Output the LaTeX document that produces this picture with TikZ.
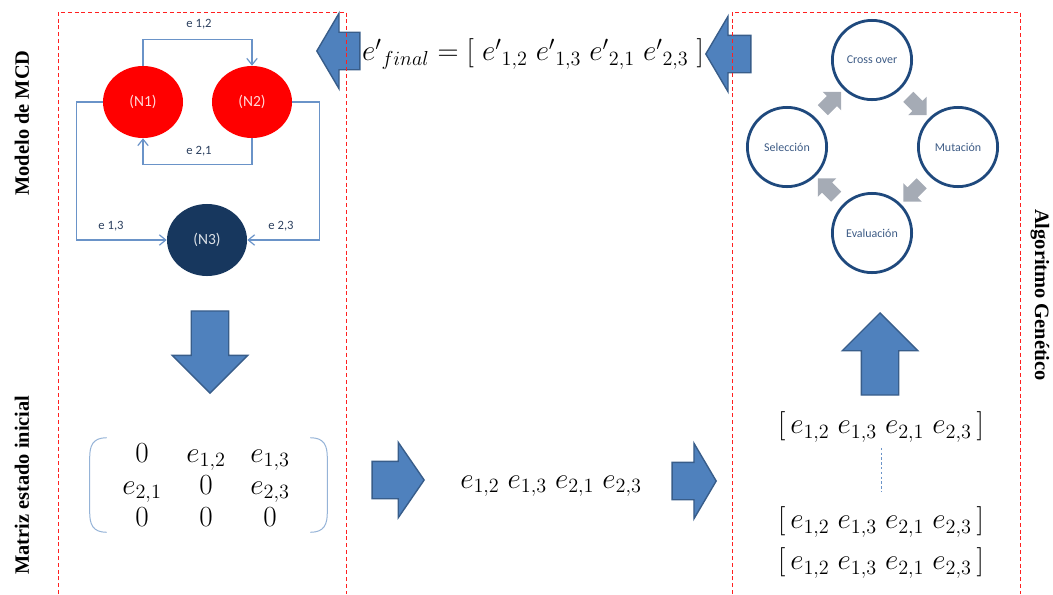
\documentclass[tikz,border=0pt]{standalone}
\usepackage{fontspec}
\setmainfont{Liberation Serif}
\newfontfamily\calibri{Carlito}
\usepackage{xcolor}
\usepackage{tikz}
\usetikzlibrary{shapes.geometric, shapes.arrows, positioning, arrows.meta, calc}
\usetikzlibrary{matrix}

\definecolor{nodered}{HTML}{FF0000}
\definecolor{nodenavy}{HTML}{17375E}
\definecolor{edgeblue}{HTML}{6A93C8}
\definecolor{labelblue}{HTML}{2B3F5E}
\definecolor{arrowfill}{HTML}{4F81BD}
\definecolor{arrowline}{HTML}{385D8A}
\definecolor{ringblue}{HTML}{1F497D}
\definecolor{ringtext}{HTML}{3E5C86}
\definecolor{stepgray}{HTML}{A5ABB5}
\definecolor{boxred}{HTML}{FF2020}
\definecolor{parenblue}{HTML}{95B3D7}

\begin{document}
\begin{tikzpicture}[
        x=0.025cm, y=-0.025cm,
        % Styles for the graph of the model
        mcdnode/.style={
            ellipse, draw=none, fill=nodered,
            minimum width=20mm, minimum height=18mm,
            font=\calibri\fontsize{11}{13}\selectfont, text=red!15
        },
        link/.style={
            draw=edgeblue, line width=0.3mm,
            -{Straight Barb[length=1.6mm, width=2.6mm]}
        },
        edgelabel/.style={font=\calibri\fontsize{9}{11}\selectfont, text=labelblue, inner sep=1pt},
        % Block arrows between the stages
        bigarrow/.style={
            single arrow, draw=arrowline, fill=arrowfill, line width=0.35mm,
            inner xsep=0pt, inner ysep=4.5mm, minimum width=0pt,
            single arrow head extend=4.75mm, anchor=tip
        },
        % Genetic algorithm cycle
        gastep/.style={
            circle, draw=ringblue, fill=white, line width=0.7mm,
            minimum size=19.8mm, inner sep=0pt,
            font=\calibri\fontsize{8.5}{10}\selectfont, text=ringtext
        },
        gaarrow/.style={
            single arrow, draw=none, fill=stepgray,
            inner xsep=0pt, inner ysep=1.7mm, minimum width=0pt,
            single arrow head extend=1.5mm, minimum height=6.5mm
        },
        mathtext/.style={font=\fontsize{20}{24}\selectfont, inner sep=1pt},
        sidelabel/.style={font=\bfseries\fontsize{14.5}{17}\selectfont},
        redbox/.style={draw=boxred, line width=0.2mm, dash pattern=on 1mm off 0.7mm},
        paren/.style={draw=parenblue, line width=0.25mm},
        dotline/.style={draw=edgeblue, line width=0.2mm, dash pattern=on 0.6mm off 0.6mm,
            shorten <=1mm, shorten >=3.5mm}
    ]
    \useasboundingbox (0,0) rectangle (1053,594);

    % 1. SIDE TITLES
    \node[sidelabel, rotate=90] (mcdlabel) at (22,123) {Modelo de MCD};
    \node[sidelabel, rotate=90] (matlabel) at (22,485) {Matriz estado inicial};
    \node[sidelabel, rotate=-90] (galabel) at (1040,295) {Algoritmo Genético};

    % 2. MCD MODEL (three nodes)
    \node[mcdnode] (n1) at (143,102) {(N1)};
    \node[mcdnode] (n2) at (252,102) {(N2)};
    \node[mcdnode, fill=nodenavy, text=white!85!nodenavy] (n3) at (207,240) {(N3)};

    % Edges between the nodes
    \draw[link] (n1.north) -- ++(0,-26) -| (n2.north);
    \draw[link] (n2.south) -- ++(0,26) -| (n1.south);
    \draw[link] (n1.west) -- ++(-26,0) |- (n3.west);
    \draw[link] (n2.east) -- ++(27,0) |- (n3.east);

    \node[edgelabel] (l12) at (199,24) {e 1,2};
    \node[edgelabel] (l21) at (199,151) {e 2,1};
    \node[edgelabel] (l13) at (111,226) {e 1,3};
    \node[edgelabel] (l23) at (281,226) {e 2,3};

    % 3. INITIAL STATE MATRIX
    \matrix (mat) [matrix of math nodes, inner sep=0pt,
        nodes={minimum width=16mm, inner sep=0pt, text height=4mm, text depth=1.5mm},
        column sep=0pt, row sep=2.5mm, font=\fontsize{20}{24}\selectfont] at (206,489) {
        0       & e_{1,2} & e_{1,3} \\
        e_{2,1} & 0       & e_{2,3} \\
        0       & 0       & 0       \\
    };
    \draw[paren] ($(mat.north west)+(-3,-8)$) .. controls +(-14,0) and +(0,-12) .. ($(mat.north west)+(-20,12)$)
        -- ($(mat.south west)+(-20,-20)$) .. controls +(0,12) and +(-14,0) .. ($(mat.south west)+(-3,0)$);
    \draw[paren] ($(mat.north east)+(8,-8)$) .. controls +(14,0) and +(0,-12) .. ($(mat.north east)+(25,12)$)
        -- ($(mat.south east)+(25,-20)$) .. controls +(0,12) and +(14,0) .. ($(mat.south east)+(8,0)$);

    % 4. FLAT VECTOR AND POPULATION
    \node[mathtext] (flat) at (551,486) {$e_{1,2}\;e_{1,3}\;e_{2,1}\;e_{2,3}$};
    \node[mathtext] (vec1) at (881,427) {$[\,e_{1,2}\;e_{1,3}\;e_{2,1}\;e_{2,3}\,]$};
    \node[mathtext] (vec2) at (881,522) {$[\,e_{1,2}\;e_{1,3}\;e_{2,1}\;e_{2,3}\,]$};
    \node[mathtext] (vec3) at (881,563) {$[\,e_{1,2}\;e_{1,3}\;e_{2,1}\;e_{2,3}\,]$};
    \draw[dotline] (vec1.south) -- (vec2.north);

    % Final result
    \node[mathtext] (final) at (533,54) {${e'}_{final} = [\;{e'}_{1,2}\;{e'}_{1,3}\;{e'}_{2,1}\;{e'}_{2,3}\;]$};

    % 5. GENETIC ALGORITHM CYCLE
    \node[gastep] (cross) at (872,60) {Cross over};
    \node[gastep] (mut) at (958,147) {Mutación};
    \node[gastep] (eval) at (872,233) {Evaluación};
    \node[gastep] (sel) at (787,147) {Selección};

    \node[gaarrow, rotate=45] (g1) at ($(sel)!0.5!(cross)$) {};
    \node[gaarrow, rotate=-45] (g2) at ($(cross)!0.5!(mut)$) {};
    \node[gaarrow, rotate=-135] (g3) at ($(mut)!0.5!(eval)$) {};
    \node[gaarrow, rotate=135] (g4) at ($(eval)!0.5!(sel)$) {};

    % 6. BLOCK ARROWS
    \node[bigarrow, rotate=180, single arrow tip angle=119, minimum height=10.75mm] (outmcd) at (316,51) {};
    \node[bigarrow, rotate=180, single arrow tip angle=119, minimum height=11.25mm] (outga) at (705,54) {};
    \node[bigarrow, rotate=-90, minimum height=20.5mm] (tomat) at (210,394) {};
    \node[bigarrow, single arrow tip angle=111, minimum height=13mm] (toflat) at (425,480) {};
    \node[bigarrow, single arrow tip angle=119, minimum height=11mm] (topop) at (717,481) {};
    \node[bigarrow, rotate=90, minimum height=20.5mm] (toga) at (880,312) {};

    % 7. DASHED FRAMES
    \draw[redbox] (58,594) |- (346,12) -- (346,594);
    \draw[redbox] (732,594) |- (1020,12) -- (1020,594);

\end{tikzpicture}
\end{document}
